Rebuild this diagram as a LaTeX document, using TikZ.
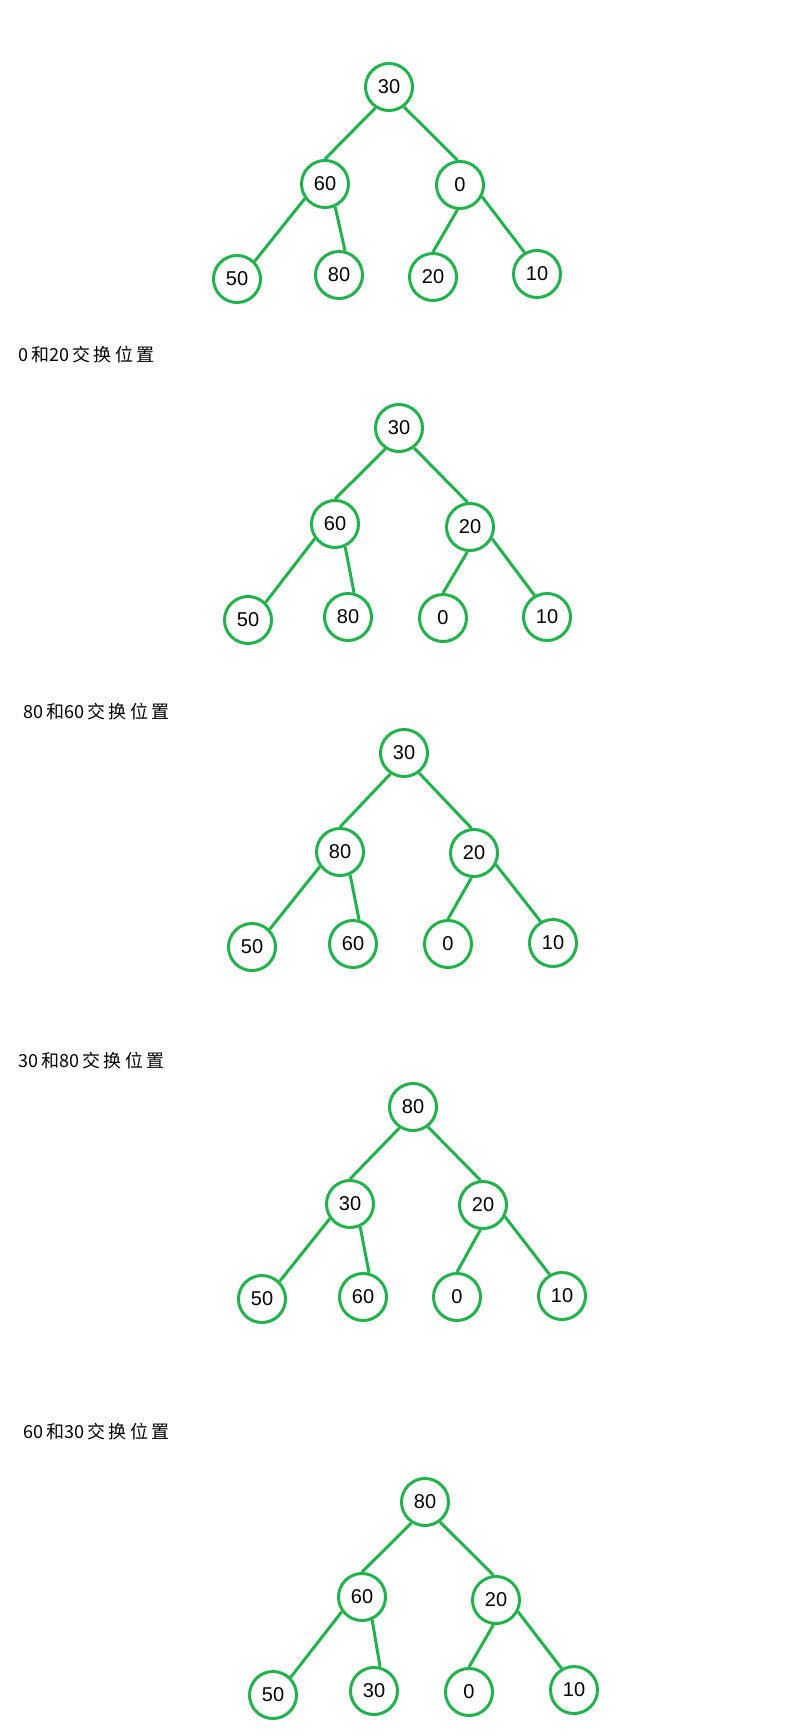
\documentclass[tikz,border=0pt]{standalone}
\usepackage{fontspec}
\setmainfont{Liberation Sans}
\newfontfamily\cjk{Noto Sans CJK SC}
\newfontfamily\cjksp[LetterSpace=20]{Noto Sans CJK SC}
\usetikzlibrary{positioning}
\definecolor{heapgreen}{RGB}{34,177,76}
\newcommand\swapnote[2]{{\cjk #1\,}{\cjksp 和}{\cjk #2\,}{\cjksp 交换位置}}

\begin{document}
\begin{tikzpicture}[x=1pt, y=-1pt,
    key/.style={circle, draw=heapgreen, line width=3pt, minimum size=47pt, inner sep=0pt, font=\fontsize{20}{20}\selectfont},
    edge/.style={heapgreen, line width=3pt},
    note/.style={anchor=west, inner sep=0pt, font=\fontsize{18}{18}\selectfont}
  ]
  \useasboundingbox (0,0) rectangle (784,1736);

  % start
  \node[key] (t1r) at (389,87) {30};
  \node[key] (t1a) at (325,184) {60};
  \node[key] (t1b) at (460,185) {0};
  \node[key] (t1c) at (237,279) {50};
  \node[key] (t1d) at (339,275) {80};
  \node[key] (t1e) at (433,277) {20};
  \node[key] (t1f) at (537,274) {10};

  \node[note] (n1) at (18,355) {\swapnote{0}{20}};

  \node[key] (t2r) at (399,428) {30};
  \node[key] (t2a) at (335,524) {60};
  \node[key] (t2b) at (470,527) {20};
  \node[key] (t2c) at (248,620) {50};
  \node[key] (t2d) at (348,617) {80};
  \node[key] (t2e) at (443,618) {0};
  \node[key] (t2f) at (547,617) {10};

  \node[note] (n2) at (23,712) {\swapnote{80}{60}};

  \node[key] (t3r) at (404,753) {30};
  \node[key] (t3a) at (340,852) {80};
  \node[key] (t3b) at (474,853) {20};
  \node[key] (t3c) at (252,947) {50};
  \node[key] (t3d) at (353,944) {60};
  \node[key] (t3e) at (448,944) {0};
  \node[key] (t3f) at (553,943) {10};

  \node[note] (n3) at (18,1061) {\swapnote{30}{80}};

  \node[key] (t4r) at (413,1107) {80};
  \node[key] (t4a) at (350,1204) {30};
  \node[key] (t4b) at (483,1205) {20};
  \node[key] (t4c) at (262,1299) {50};
  \node[key] (t4d) at (363,1297) {60};
  \node[key] (t4e) at (457,1297) {0};
  \node[key] (t4f) at (562,1296) {10};

  \node[note] (n4) at (23,1432) {\swapnote{60}{30}};

  \node[key] (t5r) at (425,1502) {80};
  \node[key] (t5a) at (362,1597) {60};
  \node[key] (t5b) at (496,1600) {20};
  \node[key] (t5c) at (273,1695) {50};
  \node[key] (t5d) at (374,1691) {30};
  \node[key] (t5e) at (469,1692) {0};
  \node[key] (t5f) at (574,1690) {10};

  % edges, hand-placed ends on the rims
  \foreach \t in {1,...,5}
    \foreach \p/\pa/\c/\ca in {r/237/a/90, r/307/b/96, a/216/c/45, a/294/d/76, b/264/e/90, b/332/f/120}
      \draw[edge] (t\t\p.\pa) -- (t\t\c.\ca);
\end{tikzpicture}
\end{document}
